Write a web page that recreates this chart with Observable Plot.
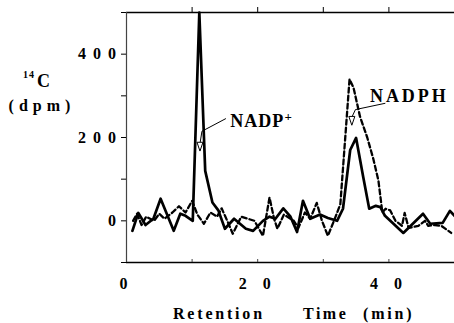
<!DOCTYPE html>
<html><head><meta charset="utf-8">
<script src="https://cdn.jsdelivr.net/npm/d3@7"></script>
<script src="https://cdn.jsdelivr.net/npm/@observablehq/plot@0.6"></script>
<style>
html,body{margin:0;padding:0;background:#fff;}
#chart svg{display:block;}
[aria-label="x-axis tick label"] text{letter-spacing:6px;}
[aria-label="y-axis tick label"] text{letter-spacing:1.5px;}
</style></head>
<body><div id="chart"></div>
<script>
// ---- data (retention time in min, 14C in dpm) ----
const solidX = [0.9,1.8,2.9,4.1,5.2,7.2,8.2,9.0,10.1,11.1,12.0,13.1,14.0,15.0,16.4,18.2,19.3,20.8,21.8,22.7,23.9,25.0,26.0,26.9,28.0,29.5,30.7,32.1,33.0,34.1,35.0,36.1,37.0,38.0,38.7,39.4,42.2,45.2,46.3,48.2,49.3,50.0];
const solidY = [-24,19,-10,5,53,-24,17,12,0,500,120,44,25,-19,5,-19,-24,0,10,5,30,10,-27,48,5,15,7,0,29,170,199,104,29,36,33,12,-29,17,-7,-5,24,12];
const dashedX = [1.0,1.6,2.3,3.0,4.2,5.0,5.8,7.0,8.0,9.0,10.0,10.8,11.8,12.8,13.8,14.5,15.5,16.2,17.5,18.5,19.5,20.8,21.8,22.5,23.0,24.0,25.5,26.2,27.2,28.0,29.0,29.8,30.7,31.8,32.6,34.0,34.6,35.6,36.7,37.6,38.4,39.0,39.5,40.2,41.0,42.0,42.4,43.0,44.5,45.5,46.0,47.0,48.0,49.5];
const dashedY = [0,17,-10,10,0,17,5,20,35,20,48,15,-7,20,10,30,-5,-31,10,5,0,-36,56,5,-19,15,0,-17,20,5,43,0,-36,7,40,340,320,250,200,150,97,20,29,25,0,-12,19,-17,-12,0,-12,-10,-12,-29];

const xTicksTop = [10,20,30,40];
const xTicksBottom = [0,10,20,30,40];
const xTickLabels = [0,20,40];
const yTicks = [-100,0,100,200,300,400,500];
const yTickLabels = [0,200,400];

const labelNames = ["NADP","NADPH"];
const labelX = [15.8,37.1];
const labelY = [226,286];
const supText = ["+"];
const supX = [24.1];
const supY = [262];
const arrowNADP_X = [15.1,11.5,11.25];
const arrowNADP_Y = [245,215,190];
const arrowNADPH_X = [39.4,34.9,34.45];
const arrowNADPH_Y = [282,267,252];
const headX = [11.2,34.35];
const headY = [178,240];

// ---- build tables ----
const solid = solidX.map((x,i)=>({x, y: solidY[i]}));
const dashed = dashedX.map((x,i)=>({x, y: dashedY[i]}));
const labels = labelNames.map((t,i)=>({x: labelX[i], y: labelY[i], t}));
const sups = supText.map((t,i)=>({x: supX[i], y: supY[i], t}));
const arrows = [
  ...arrowNADP_X.map((x,i)=>({x, y: arrowNADP_Y[i], k:"a"})),
  ...arrowNADPH_X.map((x,i)=>({x, y: arrowNADPH_Y[i], k:"b"}))
];
const heads = headX.map((x,i)=>({x, y: headY[i]}));

const spaced = d => String(d).split("").join(" ");
const font = "'Liberation Serif','Times New Roman',serif";

const downTri = {
  draw(ctx, size) {
    const k = Math.sqrt(size/Math.PI);
    ctx.moveTo(-0.75*k, -1.1*k);
    ctx.lineTo(0.75*k, -1.1*k);
    ctx.lineTo(0, 1.1*k);
    ctx.closePath();
  }
};

const plot = Plot.plot({
  width: 454, height: 323,
  marginLeft: 126, marginRight: 0, marginTop: 12, marginBottom: 61,
  style: {fontFamily: font, background: "#fff", color: "#000"},
  x: {domain: [0,50], label: null},
  y: {domain: [-100,500], label: null},
  marks: [
    Plot.ruleY([500], {stroke: "#000", strokeWidth: 1.6}),
    Plot.ruleY([-100], {stroke: "#000", strokeWidth: 1.4}),
    Plot.ruleX([0], {stroke: "#444", strokeWidth: 1.2}),
    Plot.axisY({ticks: yTicks, tickSize: 5, tickPadding: 4, tickFormat: d => yTickLabels.includes(d) ? spaced(d) : "", fontSize: 16, fontWeight: "bold", label: null}),
    Plot.axisX({anchor: "top", ticks: xTicksTop, tickSize: 6, tickFormat: () => "", label: null}),
    Plot.axisX({anchor: "bottom", ticks: xTickLabels, tickSize: 0, tickPadding: 15, tickFormat: spaced, fontSize: 16, fontWeight: "bold", label: null}),
    Plot.ruleX(xTicksBottom, {y1: -100, y2: -92.8, stroke: "#444", strokeWidth: 1}),
    Plot.line(dashed, {x: "x", y: "y", stroke: "#000", strokeWidth: 2.3, strokeDasharray: "5,3"}),
    Plot.line(solid, {x: "x", y: "y", stroke: "#000", strokeWidth: 2.7}),
    Plot.line(arrows, {x: "x", y: "y", z: "k", stroke: "#000", strokeWidth: 1}),
    Plot.dot(heads, {x: "x", y: "y", symbol: downTri, r: 4, fill: "#fff", stroke: "#000", strokeWidth: 1}),
    Plot.text(labels, {x: "x", y: "y", text: "t", textAnchor: "start", lineAnchor: "bottom", fontSize: 18, fontWeight: "bold"}),
    Plot.text(sups, {x: "x", y: "y", text: "t", textAnchor: "start", lineAnchor: "top", fontSize: 13, fontWeight: "bold"})
  ]
});
document.getElementById("chart").appendChild(plot);

const svg = d3.select(plot);
// letter spacing of the annotation labels
svg.selectAll('g[aria-label="text"] text').attr("letter-spacing", function() {
  const t = this.textContent;
  return t === "NADPH" ? "3px" : t === "NADP" ? "1px" : null;
});

// axis titles (outside the frame)
const tg = svg.append("g").attr("font-family", font).attr("font-weight", "bold").attr("fill", "#000").attr("text-anchor", "start");
tg.append("text").attr("x", 23).attr("y", 78).attr("font-size", 10).attr("letter-spacing", "1px").text("14");
tg.append("text").attr("x", 37).attr("y", 87).attr("font-size", 18).text("C");
tg.append("text").attr("x", 42).attr("y", 111).attr("font-size", 16).attr("text-anchor", "middle").attr("letter-spacing", "5px").text("(dpm)");
tg.append("text").attr("x", 173).attr("y", 319).attr("font-size", 16).attr("letter-spacing", "2.8px").text("Retention");
tg.append("text").attr("x", 303).attr("y", 319).attr("font-size", 16).attr("letter-spacing", "2.5px").text("Time");
tg.append("text").attr("x", 363).attr("y", 319).attr("font-size", 16).attr("letter-spacing", "2.8px").text("(min)");
</script>
</body></html>
